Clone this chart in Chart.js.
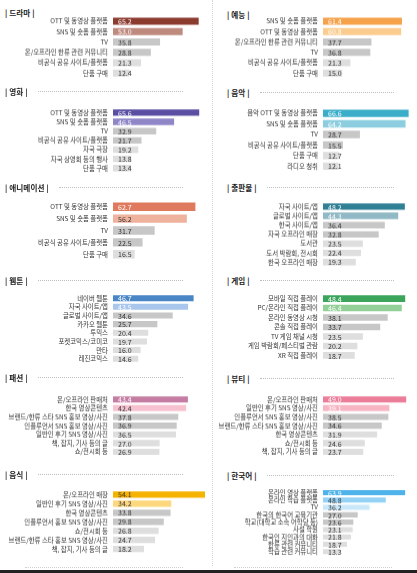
<!DOCTYPE html>
<html><head><meta charset="utf-8">
<script src="https://cdn.jsdelivr.net/npm/chart.js@4.4.1/dist/chart.umd.min.js"></script>
<style>
html,body{margin:0;padding:0;background:#fff;}
body{width:417px;height:573px;position:relative;overflow:hidden;font-family:"Noto Sans CJK KR","Noto Sans",sans-serif;}
.pw{position:absolute;width:207px;}
.ttl{position:absolute;display:flex;align-items:center;height:10px;}
.ttl span{font-weight:700;font-size:7.6px;color:#222;white-space:nowrap;letter-spacing:0.1px;}
.ttl i{flex:1;border-top:1px dotted #bdbdbd;margin-left:10px;height:0;}
</style></head>
<body>
<script>
// ---- data ----
const panelTitles = ['드라마','영화','애니메이션','웹툰','패션','음식','예능','음악','출판물','게임','뷰티','한국어'];

const dramaLabels = ['OTT 및 동영상 플랫폼','SNS 및 숏폼 플랫폼','TV','온/오프라인 한류 관련 커뮤니티','비공식 공유 사이트/플랫폼','단품 구매'];
const dramaValues = [65.2,53.0,35.8,28.8,21.3,12.4];

const movieLabels = ['OTT 및 동영상 플랫폼','SNS 및 숏폼 플랫폼','TV','비공식 공유 사이트/플랫폼','자국 극장','자국 상영회 등의 행사','단품 구매'];
const movieValues = [65.6,46.5,32.9,21.7,19.2,13.8,13.4];

const animLabels = ['OTT 및 동영상 플랫폼','SNS 및 숏폼 플랫폼','TV','비공식 공유 사이트/플랫폼','단품 구매'];
const animValues = [62.7,56.2,31.7,22.5,16.5];

const webtoonLabels = ['네이버 웹툰','자국 사이트/앱','글로벌 사이트/앱','카카오 웹툰','투믹스','포켓코믹스/코미코','만타','레진코믹스'];
const webtoonValues = [46.7,43.5,34.6,25.7,20.4,19.7,16.0,14.6];

const fashionLabels = ['온/오프라인 판매처','한국 영상콘텐츠','브랜드/한류 스타 SNS 홍보 영상/사진','인플루언서 SNS 홍보 영상/사진','일반인 후기 SNS 영상/사진','책, 잡지, 기사 등의 글','쇼/전시회 등'];
const fashionValues = [43.4,42.4,37.8,36.9,36.5,27.0,26.9];

const foodLabels = ['온/오프라인 매장','일반인 후기 SNS 영상/사진','한국 영상콘텐츠','인플루언서 홍보 SNS 영상/사진','쇼/전시회 등','브랜드/한류 스타 홍보 SNS 영상/사진','책, 잡지, 기사 등의 글'];
const foodValues = [54.1,34.2,33.8,29.8,26.8,24.7,18.2];

const varietyLabels = ['SNS 및 숏폼 플랫폼','OTT 및 동영상 플랫폼','온/오프라인 한류 관련 커뮤니티','TV','비공식 공유 사이트/플랫폼','단품 구매'];
const varietyValues = [61.4,60.8,37.7,36.8,21.3,15.0];

const musicLabels = ['음악 OTT 및 동영상 플랫폼','SNS 및 숏폼 플랫폼','TV','비공식 공유 사이트/플랫폼','단품 구매','라디오 청취'];
const musicValues = [66.6,64.2,28.7,15.5,12.7,12.1];

const publishLabels = ['자국 사이트/앱','글로벌 사이트/앱','한국 사이트/앱','자국 오프라인 매장','도서관','도서 박람회, 전시회','한국 오프라인 매장'];
const publishValues = [48.2,44.3,36.4,32.8,23.5,22.4,19.3];

const gameLabels = ['모바일 직접 플레이','PC/온라인 직접 플레이','온라인 동영상 시청','콘솔 직접 플레이','TV 게임 채널 시청','게임 박람회/페스티벌 관람','XR 직접 플레이'];
const gameValues = [48.4,46.4,38.1,33.7,23.5,20.2,18.7];

const beautyLabels = ['온/오프라인 판매처','일반인 후기 SNS 영상/사진','인플루언서 SNS 홍보 영상/사진','브랜드/한류 스타 SNS 홍보 영상/사진','한국 영상콘텐츠','쇼/전시회 등','책, 잡지, 기사 등의 글'];
const beautyValues = [49.0,39.1,38.5,34.6,31.9,24.6,23.7];

const koreanLabels = ['온라인 영상 플랫폼','온라인 학습 플랫폼','TV','한국의 한국어 교육기관','학교(대학교 소속 어학당 등)','사설 학원','한국인 지인과의 대화','한류 관련 커뮤니티','학습 관련 커뮤니티'];
const koreanValues = [63.9,48.8,36.2,27.0,23.6,23.1,21.8,18.7,13.3];

// ---- style / layout ----
const accentColors = [
  ['#8c3b2f','#bf8a7e'],
  ['#5a4ea3','#8f86c8'],
  ['#e07a5e','#efb29d'],
  ['#4a86c6','#a9c7ec'],
  ['#c57ca2','#f6c2d0'],
  ['#f5b300','#fdd77c'],
  ['#f5a24b','#fbcc8e'],
  ['#3aaec9','#8dcde0'],
  ['#2f7f95','#90b8c5'],
  ['#3ba65b','#93d097'],
  ['#ec7d98','#f7b5c4'],
  ['#4db3ea','#93d2f4','#c8e8fa']
];
const accentText = [
  ['#fff','#fff'],['#fff','#fff'],['#fff','#333'],['#fff','#fff'],['#fff','#333'],['#333','#333'],
  ['#fff','#fff'],['#fff','#fff'],['#fff','#fff'],['#fff','#fff'],['#fff','#fff'],['#fff','#333','#333']
];
const GREY_MID = '#c7c7c7', GREY_LIGHT = '#dedede';

const allLabels = [dramaLabels,movieLabels,animLabels,webtoonLabels,fashionLabels,foodLabels,varietyLabels,musicLabels,publishLabels,gameLabels,beautyLabels,koreanLabels];
const allValues = [dramaValues,movieValues,animValues,webtoonValues,fashionValues,foodValues,varietyValues,musicValues,publishValues,gameValues,beautyValues,koreanValues];
const axisMax = [70,70,70,53.3,53.3,54,70,70,53,53,53,70];
// first row centre, row spacing, title centre
const rowStart = [14,105,200,290,392,487, 14,106,199,291,392,485];
const rowStep  = [13.2,11.67,15.4,10.86,11.17,11.5, 13.2,13.4,11.67,12,11.17,9.25];
const titleY   = [12,91,187,280,377,474, 14,92,187,280,378,475];

const valuePlugin = {
  id:'vals',
  afterDatasetsDraw(chart){
    const ctx = chart.ctx;
    const meta = chart.getDatasetMeta(0);
    const ds = chart.data.datasets[0];
    ctx.save();
    ctx.font = '7px "Noto Sans CJK KR", sans-serif';
    ctx.textBaseline = 'middle';
    ctx.textAlign = 'left';
    meta.data.forEach((bar,i)=>{
      ctx.fillStyle = ds.textColors[i];
      ctx.fillText(ds.data[i].toFixed(1), bar.base + 5, bar.y + 0.5);
    });
    ctx.restore();
  }
};

function addEl(tag, css, parent){
  const e = document.createElement(tag);
  e.style.cssText = css;
  (parent||document.body).appendChild(e);
  return e;
}

// separators
addEl('div','position:absolute;left:212px;top:0;height:566px;width:0;border-left:1px dotted #d6d6d6;');
addEl('div','position:absolute;left:25px;top:567px;width:158px;border-top:1px dotted #cfcfcf;');
addEl('div','position:absolute;left:234px;top:567px;width:158px;border-top:1px dotted #cfcfcf;');
addEl('div','position:absolute;left:0;top:570px;width:417px;height:3px;background:#222;');

panelTitles.forEach((t,p)=>{
  const col = p < 6 ? 0 : 1;
  const first = (p === 0 || p === 6);
  const tx = col === 0 ? 5 : 227;
  const tEnd = col === 0 ? 183 : 394;
  const tt = addEl('div','left:'+tx+'px;top:'+(titleY[p]-5)+'px;width:'+(first?120:(tEnd-tx))+'px;');
  tt.className = 'ttl';
  const sp = document.createElement('span');
  sp.textContent = '| ' + t + ' |';
  tt.appendChild(sp);
  if(!first){ tt.appendChild(document.createElement('i')); }

  const labels = allLabels[p], values = allValues[p];
  const n = labels.length, s = rowStep[p];
  const left = col === 0 ? 0 : 210;
  const wrap = addEl('div','left:'+left+'px;top:'+(rowStart[p]-s/2)+'px;height:'+(n*s)+'px;');
  wrap.className = 'pw';
  const cv = document.createElement('canvas');
  wrap.appendChild(cv);

  const acc = accentColors[p], accT = accentText[p];
  const colors = values.map((v,i)=> i < acc.length ? acc[i] : (i < acc.length+2 ? GREY_MID : GREY_LIGHT));
  const tcol = values.map((v,i)=> i < accT.length ? accT[i] : '#333');

  new Chart(cv, {
    type:'bar',
    data:{ labels: labels, datasets:[{ data: values, backgroundColor: colors, textColors: tcol,
      barPercentage:0.7, categoryPercentage:1.0, borderWidth:0 }]},
    options:{
      indexAxis:'y', responsive:true, maintainAspectRatio:false, animation:false,
      layout:{ padding:{ left:0, right: col===0 ? 2 : 4, top:0, bottom:0 } },
      plugins:{ legend:{display:false}, tooltip:{enabled:false} },
      scales:{
        x:{ display:false, min:0, max:axisMax[p] },
        y:{
          grid:{ display:false, drawTicks:false }, border:{ display:false },
          ticks:{ color:'#333', padding:5, autoSkip:false, font:{ size:6.4, family:'"Noto Sans CJK KR", sans-serif' } },
          afterFit(axis){ axis.width = 113; }
        }
      }
    },
    plugins:[valuePlugin]
  });
});
</script>
</body></html>
